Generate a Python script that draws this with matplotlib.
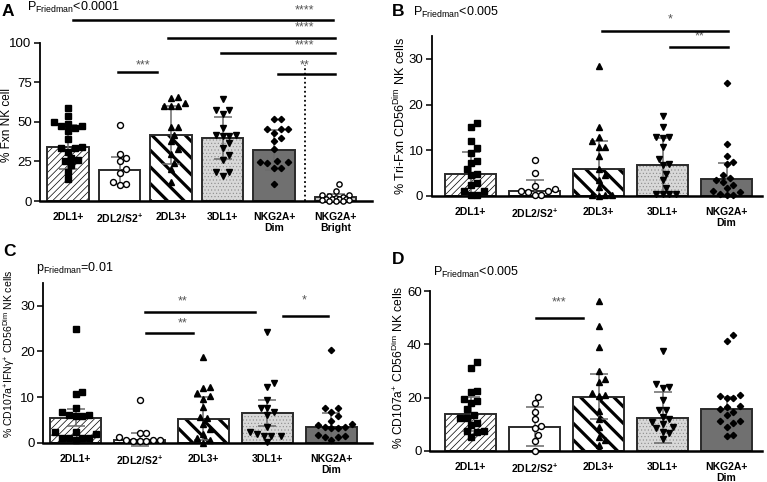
import numpy as np
import matplotlib.pyplot as plt

W, H = 767, 482
plt.rcParams['font.family'] = ['Liberation Sans', 'DejaVu Sans']
plt.rcParams['mathtext.fontset'] = 'custom'
plt.rcParams['mathtext.rm'] = 'Liberation Sans'
plt.rcParams['mathtext.bf'] = 'Liberation Sans:bold'
plt.rcParams['mathtext.it'] = 'Liberation Sans:italic'

# ---- data ----
groups = ['2DL1+', r'2DL2/S2$^{\mathbf{+}}$', '2DL3+', '3DL1+', 'NKG2A+\nDim', 'NKG2A+\nBright']

A_pos = [0, 1, 2, 3, 4, 5.2]
A_mean = [33.9, 19.5, 41.5, 39.8, 32.2, 2.5]
A_sd = [14.0, 8.5, 18.3, 13.3, 12.8, 1.8]
A_pts = [
    [58.5, 54, 50, 48.5, 47.5, 47.5, 46, 44, 39, 34, 33.5, 33.5, 31, 27, 26, 25.5, 22.5, 18.5, 14],
    [48, 29.5, 27, 25, 20, 17.5, 12, 10.5, 10],
    [66, 65, 62, 60, 60, 60, 47, 47, 42, 38, 33, 30, 24, 20, 12],
    [64.5, 57.5, 57.5, 55, 46, 42, 42, 41, 41, 36.5, 33.5, 29, 26, 18.5, 18.5, 16],
    [52, 52, 45.5, 45.5, 45.5, 43, 40, 38, 33, 25, 24.5, 24.5, 24, 21, 21, 10.5],
    [10.5, 6.5, 4, 3.5, 3, 2.5, 2, 1.5, 1.5, 1, 1, 0.5, 0.5, 0.3, 0.2, 0],
]

B_pos = [0, 1, 2, 3, 4]
B_mean = [4.8, 1.2, 6.0, 6.7, 3.7]
B_sd = [4.9, 2.3, 6.0, 6.1, 3.6]
B_pts = [
    [16, 15.2, 12, 10.6, 9.5, 7.7, 7.3, 6, 4.8, 4.6, 2.8, 2.5, 1.2, 1, 0.3, 0.2],
    [7.9, 5.0, 2.2, 1.5, 1.2, 1.0, 0.9, 0.3, 0.2],
    [28.5, 15, 12.9, 12, 10.8, 10.8, 8.8, 6, 4.5, 3.5, 2, 0.3, 0.2, 0.2, 0.1],
    [17.5, 15, 13, 13, 12.6, 10.7, 8.1, 7, 6.7, 4.8, 3.5, 1.7, 0.4, 0.4, 0.4, 0.4],
    [24.8, 11.4, 8.8, 7.5, 6.9, 4.7, 4.0, 3.5, 3.1, 2.3, 1.7, 1.1, 0.8, 0.3, 0.2, 0.4],
]

C_pos = [0, 1, 2, 3, 4]
C_mean = [5.5, 0.7, 5.2, 6.5, 3.4]
C_sd = [1.8, 1.5, 4.7, 2.8, 3.0]
C_pts = [
    [24.8, 11, 10.6, 7.6, 6.7, 6.1, 6, 5.8, 5.8, 2.3, 2.3, 2.0, 1.1, 1.1, 1.1, 1.0, 0.6],
    [9.3, 2.2, 2.2, 1.2, 0.6, 0.5, 0.3, 0.3, 0.4, 0.5],
    [18.7, 12.2, 12, 10.8, 10.3, 9.6, 7.9, 5.6, 5.4, 4, 3, 2, 1, 0.5, 0],
    [24.3, 13, 12.3, 9.3, 7.7, 7.7, 6.8, 6.1, 3.4, 2.4, 1.8, 1.5, 1.5, 1.5, 0.2],
    [20.4, 7.7, 7.5, 6.8, 5.8, 4.8, 4.0, 3.9, 3.5, 3.4, 3.3, 3.3, 1.7, 1.5, 1.3, 1.2, 0.6],
]

D_pos = [0, 1, 2, 3, 4]
D_mean = [13.7, 9.0, 20.3, 12.4, 15.8]
D_sd = [6.4, 7.3, 8.4, 9.6, 4.3]
D_pts = [
    [33.2, 31, 22.4, 22.2, 19.5, 18.5, 18, 15.5, 13.3, 12.3, 12.2, 10.3, 9.8, 7.5, 7.5, 7, 5],
    [20.3, 18, 14.5, 11.9, 9.3, 8.6, 5.9, 3.6, 0],
    [56.4, 46.9, 38.9, 30.1, 27, 26, 21.6, 21, 20.5, 15, 12, 9, 5, 4, 2],
    [37.6, 25, 23.8, 23.5, 19.1, 15.3, 15.3, 12.8, 11.9, 10.7, 9.9, 9, 8.4, 7.1, 6.5, 4.3],
    [43.5, 41.4, 21, 20.5, 20, 20, 16.9, 16.3, 15.6, 14.7, 13.4, 11.2, 11.2, 10.3, 9, 5.9, 5.6],
]

# significance bars: (x from, x to, y), star labels: (text, x, y)
A_lines = [(0.09, 5.15, 114.3), (1.95, 5.18, 103.2), (2.98, 5.18, 93.3), (4.08, 5.18, 80.2), (0.98, 1.72, 81.7)]
A_stars = [('****', 4.6, 120.3), ('****', 4.6, 109.5), ('****', 4.6, 98.5), ('**', 4.6, 85.5), ('***', 1.45, 85.5)]
B_lines = [(2.05, 4.03, 36.1), (3.12, 4.03, 32.7)]
B_stars = [('*', 3.12, 38.6), ('**', 3.58, 34.9)]
C_lines = [(1.08, 2.8, 28.7), (1.1, 1.83, 24.0), (3.24, 3.95, 27.8)]
C_stars = [('**', 1.68, 30.9), ('**', 1.68, 26.1), ('*', 3.57, 31.1)]
D_lines = [(1.03, 1.76, 50.0)]
D_stars = [('***', 1.39, 55.6)]

# ---- styles per group ----
styles = [
    dict(face='white', hatch='/////', hlw=0.5, hcol='black', marker='s', mfc='black', ms=4.2),
    dict(face='white', hatch=None, hlw=0.5, hcol='black', marker='o', mfc='white', ms=4.3),
    dict(face='white', hatch='\\\\', hlw=2.3, hcol='black', marker='^', mfc='black', ms=4.5),
    dict(face='#d8d8d8', hatch='.....', hlw=0.4, hcol='#8a8a8a', marker='v', mfc='black', ms=4.5),
    dict(face='#707070', hatch=None, hlw=0.5, hcol='#707070', marker='D', mfc='black', ms=3.2),
    dict(face='#c4c4c4', hatch=None, hlw=0.5, hcol='#c4c4c4', marker='o', mfc='white', ms=3.8),
]

fig = plt.figure(figsize=(W / 100, H / 100), dpi=100)


def swarm(vals, ppu, sp, d=6.8, max_px=20):
    # simple beeswarm in pixel space, kept inside the bar
    vals = np.asarray(vals, float)
    placed = []
    offs = np.zeros(len(vals))
    step = d * 0.5
    nmax = int(max_px / step)
    cands = [0.0]
    for k in range(1, nmax + 1):
        cands += [k * step, -k * step]
    for idx in np.argsort(vals):
        y = vals[idx] * ppu
        best, best_gap = 0.0, -1
        for c in cands:
            gap = min([np.hypot(c - px, y - py) for px, py in placed] + [1e9])
            if gap >= d:
                best = c
                break
            if gap > best_gap:
                best, best_gap = c, gap
        placed.append((best, y))
        offs[idx] = best / sp
    return offs


def panel(x0, x1, c0, sp, y0px, ppu, ytop, ybot, spine_top, yticks):
    ax = fig.add_axes([x0 / W, 1 - ybot / H, (x1 - x0) / W, (ybot - ytop) / H])
    ax.set_xlim((x0 - c0) / sp, (x1 - c0) / sp)
    ax.set_ylim(-(ybot - y0px) / ppu, (y0px - ytop) / ppu)
    for s in ['top', 'right']:
        ax.spines[s].set_visible(False)
    ax.spines['bottom'].set_position(('data', 0))
    ax.spines['bottom'].set_linewidth(1.8)
    ax.spines['left'].set_linewidth(1.3)
    ax.spines['left'].set_bounds(0, spine_top)
    ax.set_yticks(yticks)
    ax.tick_params(axis='y', length=4, width=1.1, labelsize=9.5, pad=2)
    ax.tick_params(axis='x', length=0, pad=8)
    ax.patch.set_visible(False)
    return ax


def draw(ax, pos, means, sds, pts, ppu, sp, lines, stars, width=0.8):
    for i, x in enumerate(pos):
        st = styles[i]
        with plt.rc_context({'hatch.linewidth': st['hlw']}):
            b = ax.bar(x, means[i], width, color=st['face'], hatch=st['hatch'],
                       edgecolor=st['hcol'], linewidth=0, zorder=1)
        for p in b:
            if hasattr(p, 'set_hatch_linewidth'):
                p.set_hatch_linewidth(st['hlw'])
        ax.bar(x, means[i], width, fill=False, edgecolor='#2b2b2b', linewidth=1.4, zorder=1.5)
    ax.errorbar(pos, means, yerr=sds, fmt='none', ecolor='#6a6a6a', elinewidth=1.1,
                capsize=6.5, capthick=1.1, zorder=2)
    for i, x in enumerate(pos):
        st = styles[i]
        xs = x + swarm(pts[i], ppu, sp, max_px=0.4 * width * sp)
        ax.plot(xs, pts[i], linestyle='none', marker=st['marker'], ms=st['ms'],
                mfc=st['mfc'], mec='black', mew=1.0, zorder=3, clip_on=False)
    for xa, xb, y in lines:
        ax.plot([xa, xb], [y, y], color='black', lw=1.8, clip_on=False, zorder=4)
    for s, x, y in stars:
        ax.text(x, y, s, ha='center', va='center', fontsize=9, color='#555555', clip_on=False)
    ax.set_xticks(pos)
    ax.set_xticklabels(groups[:len(pos)], fontsize=7.5, fontweight='bold', linespacing=1.15)


# Panel A
axA = panel(40, 372, 68, 51.5, 201, 1.583, 14, 206, 100, [0, 25, 50, 75, 100])
draw(axA, A_pos, A_mean, A_sd, A_pts, 1.583, 51.5, A_lines, A_stars)
axA.plot([4.6, 4.6], [0, 86], color='black', lw=1.3, linestyle=(0, (1, 1.5)), zorder=4)

# Panel B
axB = panel(431.7, 762, 470.5, 64, 196, 4.567, 14, 199, 35, [0, 10, 20, 30])
draw(axB, B_pos, B_mean, B_sd, B_pts, 4.567, 64, B_lines, B_stars)

# Panel C
axC = panel(43.3, 372, 75.5, 64, 442.7, 4.567, 262, 446, 35, [0, 10, 20, 30])
draw(axC, C_pos, C_mean, C_sd, C_pts, 4.567, 64, C_lines, C_stars)

# Panel D
axD = panel(430, 762, 470.5, 64, 450.7, 2.66, 286, 454, 60, [0, 20, 40, 60])
draw(axD, D_pos, D_mean, D_sd, D_pts, 2.66, 64, D_lines, D_stars)


def ftext(xpx, ypx, s, **kw):
    fig.text(xpx / W, 1 - ypx / H, s, **kw)


# panel letters and Friedman p-values
ftext(2, 11, 'A', fontsize=12.5, fontweight='bold', va='center')
ftext(27, 7, r'P$_{\mathregular{Friedman}}$<0.0001', fontsize=9, va='center')
ftext(392, 12, 'B', fontsize=12.5, fontweight='bold', va='center')
ftext(413, 12, r'P$_{\mathregular{Friedman}}$<0.005', fontsize=9, va='center')
ftext(3, 251, 'C', fontsize=12.5, fontweight='bold', va='center')
ftext(36, 268, r'p$_{\mathregular{Friedman}}$=0.01', fontsize=9, va='center')
ftext(392, 259, 'D', fontsize=12.5, fontweight='bold', va='center')
ftext(433, 272, r'P$_{\mathregular{Friedman}}$<0.005', fontsize=9, va='center')

# y labels
ftext(7, 125, '% Fxn NK cell', fontsize=8.5, rotation=90, ha='center', va='center')
ftext(400, 116, r'% Tri-Fxn CD56$^{\mathregular{Dim}}$ NK cells', fontsize=9.1,
      rotation=90, ha='center', va='center')
ftext(9, 354, r'% CD107a$^{\mathregular{+}}$IFNγ$^{\mathregular{+}}$ CD56$^{\mathregular{Dim}}$ NK cells',
      fontsize=7.6, rotation=90, ha='center', va='center')
ftext(398, 367, r'% CD107a$^{\mathregular{+}}$ CD56$^{\mathregular{Dim}}$ NK cells', fontsize=8.7,
      rotation=90, ha='center', va='center')

fig.savefig('out.png', dpi=100)
